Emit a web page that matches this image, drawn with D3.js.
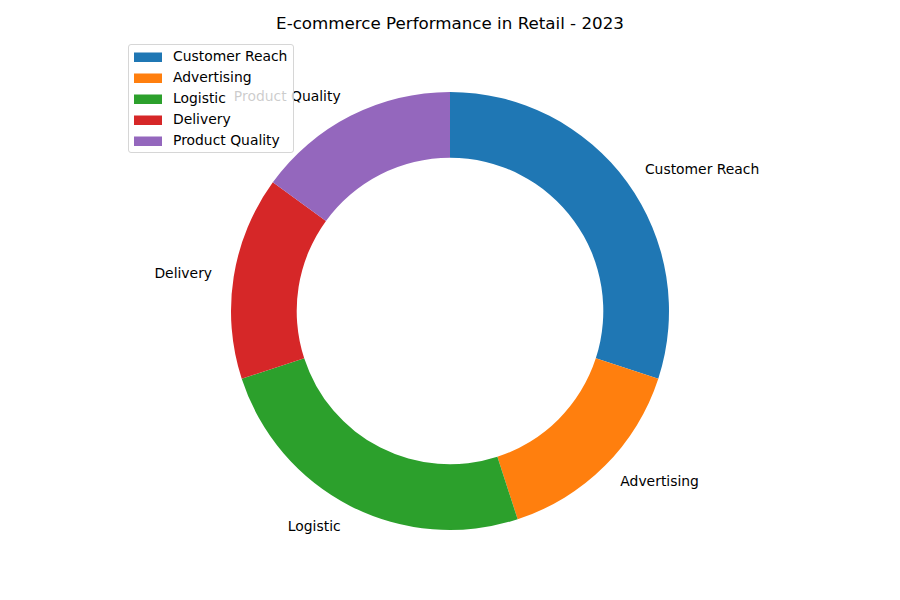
<!DOCTYPE html>
<html><head><meta charset="utf-8">
<script src="https://cdn.jsdelivr.net/npm/d3@7"></script>
<style>body{margin:0;background:#fff}svg{display:block;font-family:"DejaVu Sans",sans-serif}</style>
</head><body><svg id="c" width="900" height="600"></svg>
<script>
const categories = ["Customer Reach","Advertising","Logistic","Delivery","Product Quality"];
const values = [30,15,25,15,15];
const colors = ["#1f77b4","#ff7f0e","#2ca02c","#d62728","#9467bd"];
const title = "E-commerce Performance in Retail - 2023";

const svg = d3.select("#c");
const cx = 450, cy = 311, R = 219, r = R*0.7;
const data = categories.map((c,i)=>({c, v: values[i], col: colors[i]}));
const pie = d3.pie().value(d=>d.v).sort(null).startAngle(0).endAngle(2*Math.PI);
const arcs = pie(data);
const arc = d3.arc().innerRadius(r).outerRadius(R);
const g = svg.append("g").attr("transform",`translate(${cx},${cy})`);
g.selectAll("path").data(arcs).join("path").attr("d",arc).attr("fill",d=>d.data.col);
g.selectAll("text").data(arcs).join("text")
  .attr("x",d=>{const a=(d.startAngle+d.endAngle)/2;return 1.1*R*Math.sin(a);})
  .attr("y",d=>{const a=(d.startAngle+d.endAngle)/2;return -1.1*R*Math.cos(a);})
  .attr("dy","0.35em")
  .attr("text-anchor",d=>{const a=(d.startAngle+d.endAngle)/2;return Math.sin(a)>=0?"start":"end";})
  .attr("font-size","13.9px").attr("fill","#000").text(d=>d.data.c);

svg.append("text").attr("x",450).attr("y",23).attr("dy","0.35em").attr("text-anchor","middle")
  .attr("font-size","16.7px").text(title);

const lg = svg.append("g");
lg.append("rect").attr("x",128.5).attr("y",44.5).attr("width",165).attr("height",108).attr("rx",2.5)
  .attr("fill","#fff").attr("fill-opacity",0.8).attr("stroke","#cccccc").attr("stroke-opacity",0.8);
const ly = d3.scaleBand().domain(categories).range([46,151]);
const items = lg.selectAll("g.it").data(data).join("g").attr("class","it")
  .attr("transform",d=>`translate(0,${ly(d.c)+ly.bandwidth()/2})`);
items.append("rect").attr("x",134).attr("y",-4).attr("width",28).attr("height",9.5).attr("fill",d=>d.col);
items.append("text").attr("x",173).attr("y",0).attr("dy","0.35em").attr("font-size","13.9px").text(d=>d.c);
</script></body></html>
